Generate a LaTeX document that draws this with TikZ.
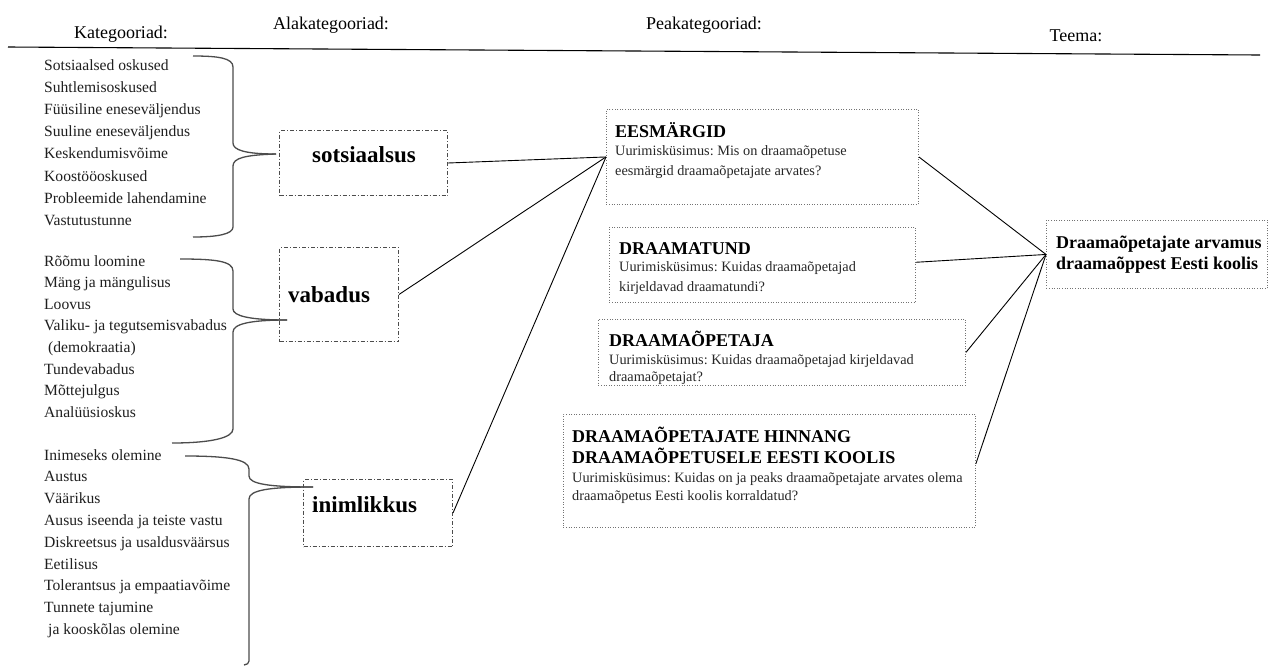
\documentclass[tikz,border=0pt]{standalone}
\usepackage{fontspec}
\setmainfont{Liberation Serif}
\frenchspacing
\begin{document}
\begin{tikzpicture}[x=1pt,y=-1pt,
  hdr/.style={font=\fontsize{18}{22}\selectfont, inner sep=0pt, anchor=base},
  lst/.style={font=\fontsize{15.6}{20}\selectfont, inner sep=0pt, anchor=base west, text=black!88},
  midbox/.style={draw=black!70, line width=1pt, dash pattern=on 4pt off 2pt on 1pt off 2pt, inner sep=0pt, anchor=north west},
  midtxt/.style={font=\bfseries\fontsize{23}{26}\selectfont, inner sep=0pt},
  peakbox/.style={draw=black!55, line width=0.9pt, dash pattern=on 1pt off 1.6pt, inner sep=0pt, anchor=north west},
  ptitle/.style={font=\bfseries\fontsize{18}{20}\selectfont, inner sep=0pt, anchor=base west},
  pbody/.style={font=\fontsize{14.3}{18}\selectfont, inner sep=0pt, anchor=base west, text=black!85},
  bracestroke/.style={draw=black!70, line width=1.3pt},
  conn/.style={draw=black, line width=0.9pt}]
\useasboundingbox (0,0) rectangle (1270,665);
\fill[white] (0,0) rectangle (1270,665);

% header
\node[hdr] (h1) at (121,38) {Kategooriad:};
\node[hdr] (h2) at (331,29) {Alakategooriad:};
\node[hdr] (h3) at (704,29) {Peakategooriad:};
\node[hdr] (h4) at (1076,41) {Teema:};
\coordinate (hl) at (8,47);
\coordinate (hr) at (1260,55);
\draw[line width=1.1pt] (hl) -- (hr);

% lists
\foreach \t [count=\i from 0] in {Sotsiaalsed oskused, Suhtlemisoskused, Füüsiline eneseväljendus, Suuline eneseväljendus, Keskendumisvõime, Koostööoskused, Probleemide lahendamine, Vastutustunne}
  \node[lst] (ka\i) at (44,{70+\i*22.2}) {\t};
\foreach \t [count=\i from 0] in {Rõõmu loomine, Mäng ja mängulisus, Loovus, Valiku- ja tegutsemisvabadus, {\hspace{4pt}(demokraatia)}, Tundevabadus, Mõttejulgus, Analüüsioskus}
  \node[lst] (kb\i) at (44,{266+\i*21.6}) {\t};
\foreach \t [count=\i from 0] in {Inimeseks olemine, Austus, Väärikus, Ausus iseenda ja teiste vastu, Diskreetsus ja usaldusväärsus, Eetilisus, Tolerantsus ja empaatiavõime, Tunnete tajumine, {\hspace{4pt}ja kooskõlas olemine}}
  \node[lst] (kc\i) at (44,{460+\i*21.8}) {\t};

% braces
\draw[bracestroke] (193,56) .. controls (218,56) and (233,58) .. (233,67) -- (233,143)
  .. controls (233,150) and (245,154) .. (276,154);
\draw[bracestroke] (276,154) .. controls (245,155) and (233,158) .. (233,166) -- (233,227)
  .. controls (233,234) and (218,237) .. (193,237);
\draw[bracestroke] (180,259) .. controls (215,259) and (233,261) .. (233,271) -- (233,309)
  .. controls (233,316) and (250,320) .. (287,320);
\draw[bracestroke] (287,320) .. controls (250,320) and (233,324) .. (233,332) -- (233,429)
  .. controls (233,438) and (210,443) .. (172,443);
\draw[bracestroke] (185,456) .. controls (225,456) and (249,459) .. (249,469) -- (249,476)
  .. controls (249,484) and (270,487) .. (313,487);
\draw[bracestroke] (313,487) .. controls (270,487) and (249,490) .. (249,499) -- (249,661)
  .. controls (249,663) and (247,665) .. (244,665);

% middle boxes
\node[midbox, minimum width=168pt, minimum height=65pt] (sots) at (279,130) {};
\node[midtxt, anchor=base] (sotst) at (364,162) {sotsiaalsus};
\node[midbox, minimum width=119pt, minimum height=94pt] (vab) at (279,247) {};
\node[midtxt, anchor=base west] (vabt) at (288,302) {vabadus};
\node[midbox, minimum width=149pt, minimum height=67pt] (inim) at (303,479) {};
\node[midtxt, anchor=base west] (inimt) at (312,512) {inimlikkus};

% peak boxes
\node[peakbox, minimum width=312pt, minimum height=95pt] (ees) at (606,109) {};
\node[ptitle] (eest) at (615,137) {EESMÄRGID};
\node[pbody] (eesb1) at (615,155.5) {Uurimisküsimus: Mis on draamaõpetuse};
\node[pbody] (eesb2) at (615,175.5) {eesmärgid draamaõpetajate arvates?};

\node[peakbox, minimum width=306pt, minimum height=75pt] (tund) at (609,227) {};
\node[ptitle] (tundt) at (619,254) {DRAAMATUND};
\node[pbody] (tundb1) at (619,271.5) {Uurimisküsimus: Kuidas draamaõpetajad};
\node[pbody] (tundb2) at (619,291.5) {kirjeldavad draamatundi?};

\node[peakbox, minimum width=367pt, minimum height=66pt] (opet) at (598,319) {};
\node[ptitle] (opett) at (609,346) {DRAAMAÕPETAJA};
\node[pbody] (opetb1) at (609,364) {Uurimisküsimus: Kuidas draamaõpetajad kirjeldavad};
\node[pbody] (opetb2) at (609,381) {draamaõpetajat?};

\node[peakbox, minimum width=412pt, minimum height=113pt] (hinn) at (563,414) {};
\node[ptitle] (hinnt1) at (572,442) {DRAAMAÕPETAJATE HINNANG};
\node[ptitle] (hinnt2) at (572,463) {DRAAMAÕPETUSELE EESTI KOOLIS};
\node[pbody] (hinnb1) at (572,482.5) {Uurimisküsimus: Kuidas on ja peaks draamaõpetajate arvates olema};
\node[pbody] (hinnb2) at (572,500.5) {draamaõpetus Eesti koolis korraldatud?};

% theme box
\node[peakbox, minimum width=221pt, minimum height=68pt] (teema) at (1046,220) {};
\node[ptitle] (teemat1) at (1056,248) {Draamaõpetajate arvamus};
\node[ptitle] (teemat2) at (1056,269) {draamaõppest Eesti koolis};

% connectors
\draw[conn] (sots.east) -- (ees.west);
\draw[conn] (vab.east) -- (ees.west);
\draw[conn] (inim.east) -- (ees.west);
\draw[conn] (ees.east) -- (teema.west);
\draw[conn] (tund.1.5) -- (teema.west);
\draw[conn] (opet.east) -- (teema.west);
\draw[conn] (hinn.2) -- (teema.west);
\end{tikzpicture}
\end{document}
